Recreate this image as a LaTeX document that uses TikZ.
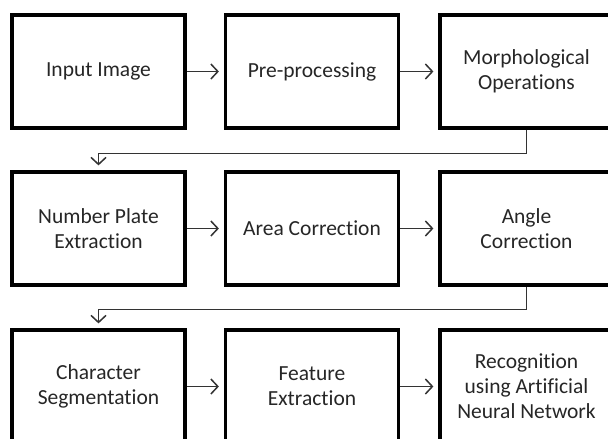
\documentclass[tikz,border=0pt]{standalone}
\usepackage{fontspec}
\setmainfont{Carlito}[Ligatures={NoCommon}, RawFeature={-dlig}]
\usetikzlibrary{arrows.meta}
\begin{document}
\begin{tikzpicture}[x=1pt,y=-1pt,
  stage/.style={draw=black, line width=3.2pt, minimum width=173pt, minimum height=113pt,
    inner sep=0pt, align=center, font=\fontsize{21.5}{25}\selectfont, text=black!85},
  conn/.style={line width=1.5pt, draw=black!80, -{Straight Barb[length=7pt,width=15pt]}, shorten >=5pt}]
\useasboundingbox (0,0) rectangle (608,439);
\clip (0,0) rectangle (608,439);
\node[stage] (a1) at (98.5,71.5) {Input Image};
\node[stage] (a2) at (312,71.5) {Pre-processing};
\node[stage] (a3) at (526.5,71.5) {Morphological\\Operations};
\node[stage] (b1) at (98.5,228.5) {Number Plate\\Extraction};
\node[stage] (b2) at (312,228.5) {Area Correction};
\node[stage] (b3) at (526.5,228.5) {Angle\\Correction};
\node[stage] (c1) at (98.5,386.5) {Character\\Segmentation};
\node[stage] (c2) at (312,386.5) {Feature\\Extraction};
\node[stage] (c3) at (526.5,386.5) {Recognition\\using Artificial\\Neural Network};
\draw[conn] (a1) -- (a2);
\draw[conn] (a2) -- (a3);
\draw[conn] (b1) -- (b2);
\draw[conn] (b2) -- (b3);
\draw[conn] (c1) -- (c2);
\draw[conn] (c2) -- (c3);
\draw[conn] (a3.south) -- ++(0,24) -| (b1.north);
\draw[conn] (b3.south) -- ++(0,23) -| (c1.north);
\end{tikzpicture}
\end{document}
